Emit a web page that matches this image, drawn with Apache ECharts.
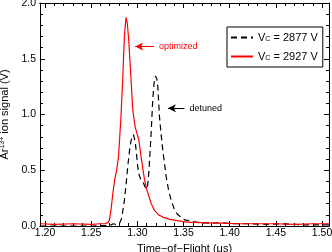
<!DOCTYPE html>
<html><head><meta charset="utf-8">
<script src="https://cdn.jsdelivr.net/npm/echarts@6/dist/echarts.min.js"></script>
<style>html,body{margin:0;padding:0;background:#fff;overflow:hidden}#c{width:332px;height:252px}</style>
</head><body><div id="c"></div>
<script>
// ---- data ----
const xMajorTicks = [1.20, 1.25, 1.30, 1.35, 1.40, 1.45, 1.50];
const xMinorTicks = [1.21,1.22,1.23,1.24,1.26,1.27,1.28,1.29,1.31,1.32,1.33,1.34,1.36,1.37,1.38,1.39,1.41,1.42,1.43,1.44,1.46,1.47,1.48,1.49];
const yTicks = [0, 0.5, 1.0, 1.5, 2.0];

const detunedName = 'Vc = 2877 V';
const detunedT = [1.195,1.22,1.25,1.27,1.274,1.278,1.2804,1.283,1.2859,1.2878,1.2895,1.2915,1.2932,1.2957,1.2975,1.2986,1.3,1.3014,1.3035,1.3058,1.3078,1.3095,1.311,1.3123,1.3136,1.3149,1.3166,1.318,1.3196,1.321,1.3221,1.3239,1.3257,1.3275,1.3295,1.3312,1.3338,1.3366,1.34,1.3438,1.3511,1.36,1.3674,1.38,1.39,1.4033,1.42,1.44,1.46,1.48,1.5075];
const detunedV = [0,0,0,0.005,0.02,0.01,0.02,0.07,0.23,0.38,0.53,0.68,0.77,0.82,0.76,0.68,0.56,0.47,0.42,0.40,0.36,0.33,0.36,0.47,0.65,0.84,1.13,1.28,1.345,1.32,1.25,0.98,0.82,0.68,0.55,0.44,0.32,0.23,0.15,0.10,0.055,0.04,0.03,0.025,0.03,0.02,0.02,0.015,0.02,0.01,0.01];

const optimizedName = 'Vc = 2927 V';
const optimizedT = [1.195,1.21,1.23,1.25,1.26,1.265,1.268,1.2696,1.2715,1.2735,1.2755,1.2775,1.2795,1.282,1.284,1.286,1.2877,1.289,1.2905,1.2932,1.2949,1.2965,1.2978,1.2995,1.3014,1.304,1.3076,1.31,1.3123,1.315,1.3185,1.323,1.3275,1.335,1.342,1.353,1.37,1.39,1.41,1.43,1.45,1.47,1.49,1.5075];
const optimizedV = [0.02,0.015,0.02,0.015,0.02,0.02,0.03,0.05,0.15,0.30,0.42,0.50,0.62,0.95,1.30,1.72,1.87,1.82,1.68,1.30,1.05,0.95,0.88,0.83,0.78,0.62,0.42,0.33,0.27,0.20,0.14,0.10,0.08,0.06,0.05,0.035,0.03,0.025,0.02,0.02,0.02,0.015,0.02,0.02];

const annOptimized = {text: 'optimized', from: [1.318, 1.61], to: [1.2975, 1.61]};
const annDetuned = {text: 'detuned', from: [1.351, 1.055], to: [1.333, 1.055]};

const X_MIN = 1.1945, X_MAX = 1.5075;
// ---- chart ----
const FONT = 'Liberation Sans, Arial, sans-serif';
const zip = (a, b) => a.map((v, i) => [v, b[i]]);
const chart = echarts.init(document.getElementById('c'), null, {renderer: 'canvas', width: 332, height: 252});

function xAx(pos, vals, len, labels) {
  return {
    type: 'value', position: pos, min: X_MIN, max: X_MAX,
    axisLine: {show: true, onZero: false, lineStyle: {color: '#000', width: 1}},
    axisTick: {show: true, inside: true, length: len, customValues: vals, lineStyle: {color: '#000', width: 1}},
    axisLabel: labels ? {show: true, customValues: vals, formatter: v => v.toFixed(2), color: '#000', fontSize: 10.5, fontFamily: FONT, margin: 2} : {show: false},
    splitLine: {show: false},
    name: labels ? 'Time\u2212of\u2212Flight (\u03bcs)' : '',
    nameLocation: 'middle', nameGap: 11,
    nameTextStyle: {color: '#000', fontSize: 11, fontFamily: FONT}
  };
}
function yAx(pos, labels) {
  return {
    type: 'value', position: pos, min: 0, max: 2, interval: 0.5,
    axisLine: {show: true, onZero: false, lineStyle: {color: '#000', width: 1}},
    axisTick: {show: true, inside: true, length: 5, lineStyle: {color: '#000'}},
    minorTick: {show: true, splitNumber: 5, length: 3, lineStyle: {color: '#000'}},
    axisLabel: labels ? {show: true, formatter: v => v.toFixed(1), color: '#000', fontSize: 10.5, fontFamily: FONT, margin: 4} : {show: false},
    splitLine: {show: false},
    name: labels ? '{a|Ar}{s|13+}{a| ion signal (V)}' : '',
    nameLocation: 'middle', nameGap: 27,
    nameTextStyle: {color: '#000', fontSize: 11, fontFamily: FONT,
      rich: {a: {fontSize: 11, fontFamily: FONT, color: '#000'},
             s: {fontSize: 7, fontFamily: FONT, color: '#000', verticalAlign: 'top', padding: [0,0,5,0]}}}
  };
}
function ann(a, color) {
  return {
    silent: true, symbol: ['none', 'arrow'], symbolSize: [6, 8],
    lineStyle: {color: color, width: 1, type: 'solid'},
    label: {show: true, position: 'start', formatter: a.text, color: color, fontSize: 9, fontFamily: FONT, distance: 5},
    data: [[{coord: a.from}, {coord: a.to}]],
    animation: false
  };
}
const legendFmt = {};
legendFmt[detunedName] = '{a|V}{s|C}{a| = 2877 V}';
legendFmt[optimizedName] = '{a|V}{s|C}{a| = 2927 V}';

chart.setOption({
  animation: false,
  backgroundColor: '#fff',
  grid: {left: 40, right: 3, top: 3, bottom: 26, containLabel: false, outerBoundsMode: 'none'},
  xAxis: [xAx('bottom', xMajorTicks, 5, true), xAx('top', xMajorTicks, 5, false),
          xAx('bottom', xMinorTicks, 3, false), xAx('top', xMinorTicks, 3, false)],
  yAxis: [yAx('left', true), yAx('right', false)],
  legend: {
    left: 227, top: 27, orient: 'vertical', data: [detunedName, optimizedName],
    borderColor: '#000', borderWidth: 1, borderRadius: 0, padding: [5, 5, 5, 3],
    itemWidth: 22, itemHeight: 8, itemGap: 8, backgroundColor: '#fff',
    itemStyle: {opacity: 0},
    formatter: n => legendFmt[n],
    textStyle: {color: '#000', fontSize: 11, fontFamily: FONT,
      rich: {a: {fontSize: 11, fontFamily: FONT, color: '#000'},
             s: {fontSize: 7, fontFamily: FONT, color: '#000', verticalAlign: 'bottom', padding: [4,0,0,0]}}}
  },
  series: [
    {name: detunedName, type: 'line', data: zip(detunedT, detunedV), symbol: 'none', xAxisIndex: 0, yAxisIndex: 0,
     lineStyle: {color: '#000', width: 1.2, type: [6, 4]}, itemStyle: {color: '#000'},
     markLine: ann(annDetuned, '#000')},
    {name: optimizedName, type: 'line', data: zip(optimizedT, optimizedV), symbol: 'none', xAxisIndex: 0, yAxisIndex: 0,
     lineStyle: {color: '#ff0000', width: 1.2}, itemStyle: {color: '#ff0000'},
     markLine: ann(annOptimized, '#ff0000')},
    {name: 'frame', type: 'line', data: [], xAxisIndex: 1, yAxisIndex: 1, symbol: 'none'}
  ]
});
</script></body></html>
